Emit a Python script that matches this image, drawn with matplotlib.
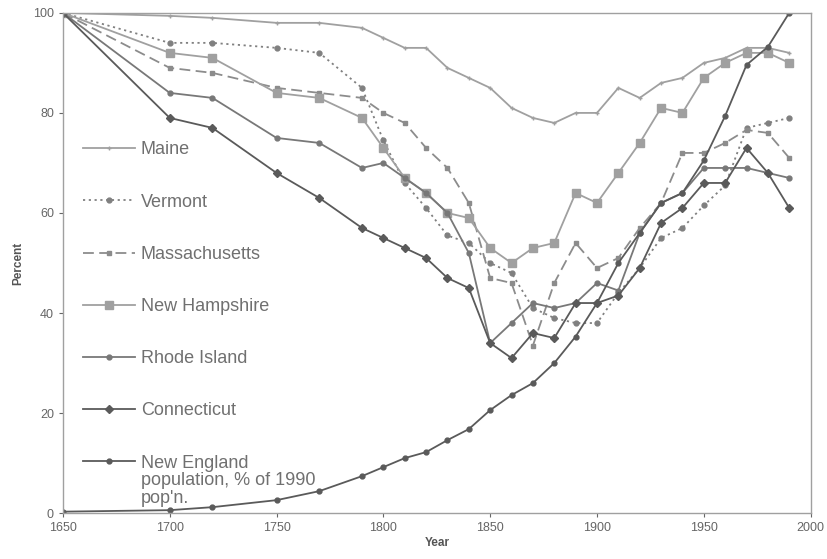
import matplotlib
matplotlib.use("Agg")
import matplotlib.pyplot as plt

plt.rcParams['font.family'] = ['Liberation Sans', 'DejaVu Sans']

years = [1650, 1700, 1720, 1750, 1770, 1790, 1800, 1810, 1820, 1830, 1840,
         1850, 1860, 1870, 1880, 1890, 1900, 1910, 1920, 1930, 1940,
         1950, 1960, 1970, 1980, 1990]

maine = [100, 99.4, 99, 98, 98, 97, 95, 93, 93, 89, 87,
         85, 81, 79, 78, 80, 80, 85, 83, 86, 87, 90, 91, 93, 93, 92]
vermont = [100, 94, 94, 93, 92, 85, 74.5, 66, 61, 55.5, 54,
           50, 48, 41, 39, 38, 38, 44, 49, 55, 57, 61.5, 65.5, 77, 78, 79]
massachusetts = [100, 89, 88, 85, 84, 83, 80, 78, 73, 69, 62,
                 47, 46, 33.5, 46, 54, 49, 51, 57, 62, 72, 72, 74, 76.6, 76, 71]
new_hampshire = [100, 92, 91, 84, 83, 79, 73, 67, 64, 60, 59,
                 53, 50, 53, 54, 64, 62, 68, 74, 81, 80, 87, 90, 92, 92, 90]
rhode_island = [100, 84, 83, 75, 74, 69, 70, 67, 64, 60, 52,
                34, 38, 42, 41, 42, 46, 44.5, 56, 62, 64, 69, 69, 69, 68, 67]
connecticut = [100, 79, 77, 68, 63, 57, 55, 53, 51, 47, 45,
               34, 31, 36, 35, 42, 42, 43.5, 49, 58, 61, 66, 66, 73, 68, 61]
ne_population = [0.3, 0.6, 1.2, 2.6, 4.4, 7.4, 9.2, 11, 12.2, 14.6, 16.8,
                 20.6, 23.6, 26, 30, 35.3, 42, 50, 56, 62, 64, 70.5, 79.4, 89.6, 93.2, 100]

labels = ["Maine", "Vermont", "Massachusetts", "New Hampshire",
          "Rhode Island", "Connecticut", "New England"]
x_ticks = [1650, 1700, 1750, 1800, 1850, 1900, 1950, 2000]
y_ticks = [0, 20, 40, 60, 80, 100]

fig = plt.figure(figsize=(8.28, 5.59), dpi=100)
ax = fig.add_axes([0.076, 0.082, 0.903, 0.895])

styles = [
    (maine, dict(color='#a0a0a0', ls='-', marker='+', ms=3, lw=1.3)),
    (vermont, dict(color='#808080', ls=(0, (1.2, 2)), marker='o', ms=3.5, lw=1.3)),
    (massachusetts, dict(color='#8c8c8c', ls=(0, (6, 3)), marker='s', ms=3.5, lw=1.3)),
    (new_hampshire, dict(color='#a0a0a0', ls='-', marker='s', ms=6, lw=1.3)),
    (rhode_island, dict(color='#787878', ls='-', marker='o', ms=3.5, lw=1.3)),
    (connecticut, dict(color='#5a5a5a', ls='-', marker='D', ms=4.5, lw=1.3)),
    (ne_population, dict(color='#5a5a5a', ls='-', marker='o', ms=3.5, lw=1.3)),
]
handles = []
for (vals, st), lab in zip(styles, labels):
    h, = ax.plot(years, vals, label=lab, **st)
    handles.append(h)

ax.set_xlim(1650, 2000)
ax.set_ylim(0, 100)
ax.set_xticks(x_ticks)
ax.set_yticks(y_ticks)
ax.tick_params(labelsize=9, colors='#666666', length=3, width=0.8)
for sp in ax.spines.values():
    sp.set_color('#a0a0a0')
    sp.set_linewidth(1.0)
ax.set_xlabel('Year', fontsize=8.5, fontweight='bold', color='#555555', labelpad=2)
ax.set_ylabel('Percent', fontsize=8.5, fontweight='bold', color='#555555', labelpad=6)

leg = ax.legend(handles=handles, loc='upper left', bbox_to_anchor=(0.027, 0.743),
                frameon=False, fontsize=13, labelspacing=1.95, handlelength=2.9,
                handletextpad=0.3, borderpad=0, borderaxespad=0)
for t in leg.get_texts():
    t.set_color('#707070')

fig.canvas.draw()
last = leg.get_texts()[-1]
bb = last.get_window_extent()
inv = ax.transAxes.inverted()
x0, y0 = inv.transform((bb.x0, bb.y0))
ax.text(x0, y0, "population, % of 1990\npop'n.", transform=ax.transAxes,
        fontsize=13, color='#707070', va='top', ha='left', linespacing=1.12)

fig.savefig('out.png', dpi=100)
